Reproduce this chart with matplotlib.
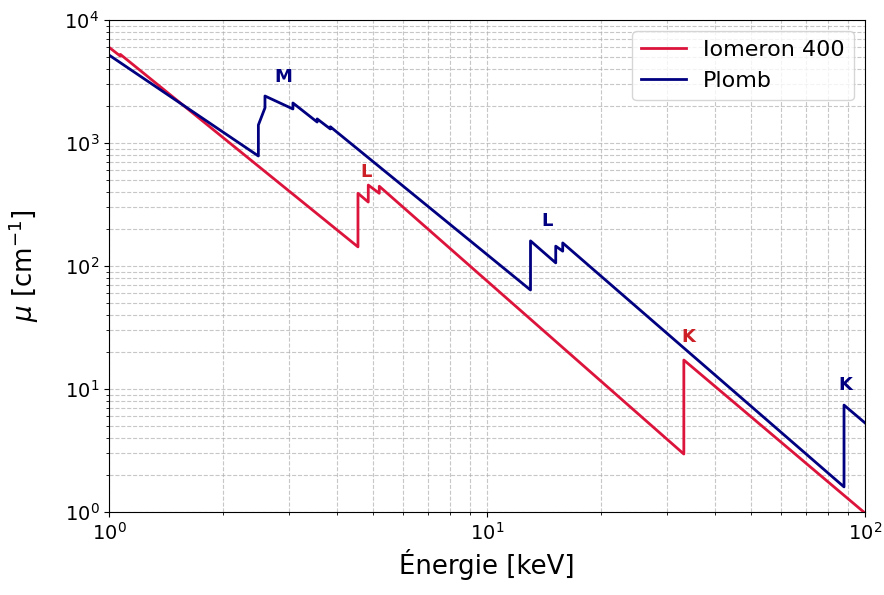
import matplotlib
matplotlib.use("Agg")
import matplotlib.pyplot as plt

# Iomeron 400 (iodine contrast), edges doubled
iom_energy = [1.0, 1.072, 1.072, 4.557, 4.557, 4.852, 4.852, 5.188, 5.188, 33.17, 33.17, 100.0]
iom_mu = [6000, 5080, 5250, 143, 390, 331, 455, 390, 445, 2.96, 17.2, 0.98]

# Plomb (lead)
pb_energy = [1.0, 2.484, 2.484, 2.586, 2.586, 3.066, 3.066, 3.554, 3.554,
             3.851, 3.851, 13.035, 13.035, 15.20, 15.20, 15.861, 15.861,
             88.005, 88.005, 100.0]
pb_mu = [5190, 784, 1400, 1930, 2410, 1890, 2115, 1480, 1570,
         1300, 1355, 63.8, 160, 106, 145, 132, 154,
         1.6, 7.4, 5.3]

# edge labels: (text, energy, mu, colour)
edge_labels = [
    ("M", 2.89, 3440, "navy"),
    ("L", 4.78, 581, "#cc1f26"),
    ("L", 14.4, 232, "navy"),
    ("K", 34.0, 26.5, "#cc1f26"),
    ("K", 88.5, 10.8, "navy"),
]

fig, ax = plt.subplots(figsize=(8.84, 5.95), dpi=100)
fig.subplots_adjust(left=0.1233, right=0.9785, top=0.9664, bottom=0.1395)

ax.loglog(iom_energy, iom_mu, color="crimson", lw=2, label="Iomeron 400")
ax.loglog(pb_energy, pb_mu, color="navy", lw=2, label="Plomb")

for txt, e, m, c in edge_labels:
    ax.text(e, m, txt, color=c, fontsize=13, fontweight="bold",
            ha="center", va="center")

ax.set_xlim(1, 100)
ax.set_ylim(1, 1e4)
ax.set_xlabel("Énergie [keV]", fontsize=18.7)
ax.set_ylabel(r"$\mu$ [cm$^{-1}$]", fontsize=18.7)
ax.yaxis.set_label_coords(-0.09, 0.5)
ax.tick_params(axis="both", which="major", labelsize=14)
ax.grid(True, which="both", linestyle="--", alpha=0.7)
ax.legend(loc="upper right", fontsize=16)

plt.savefig("out.png", dpi=100)
